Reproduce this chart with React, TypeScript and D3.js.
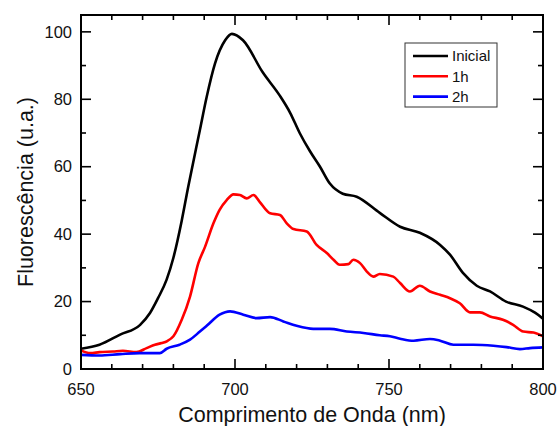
import React from 'react';
import * as d3 from 'd3';

// spectra (nm, fluorescence u.a.)
const inicialNm = [650, 656, 662.7, 669.2, 672.4, 675, 677.8, 680, 682.7, 684.8, 688.6, 690.8, 693.5, 696.8, 699, 702.6, 709, 714.6, 717.9, 721, 724.4, 727.6, 730.8, 735, 739.5, 747, 753.6, 760, 766.6, 769.8, 774, 778.5, 782.8, 788, 793.5, 797.4, 800];
const inicialVal = [6.0, 7.2, 10.2, 13.1, 16.6, 21, 26.5, 33, 44, 54, 70.9, 80.7, 90.6, 97.5, 99.4, 97.5, 88, 81, 76, 70, 64.5, 60, 55, 52, 51.1, 46.3, 42.2, 40.4, 36.8, 33.9, 28.5, 24.7, 23, 20, 18.5, 16.7, 14.9];

const h1Nm = [650, 653, 656, 660.4, 663.6, 668, 671.3, 674, 676.2, 678, 680, 682.7, 685.4, 688.1, 690.3, 693, 695, 697.3, 699.5, 701.6, 703.8, 706, 708, 711.4, 714.6, 716.8, 719, 723.3, 726.5, 729.8, 732, 734, 736.8, 738.4, 740.6, 742.8, 744.9, 747, 751.4, 753.6, 756.8, 760, 763.3, 766.6, 769.8, 773, 776.3, 779.5, 782.8, 787, 790.3, 793.6, 796.9, 800];
const h1Val = [5.5, 4.7, 5.0, 5.2, 5.4, 5.0, 6.2, 7.2, 7.7, 8.3, 9.7, 14.6, 21.5, 31.4, 36.3, 43.2, 47.2, 50.1, 51.8, 51.6, 50.6, 51.6, 49.6, 46.2, 45.7, 43.2, 41.5, 40.8, 36.8, 34.4, 32.4, 30.9, 31.1, 32.4, 31.4, 28.9, 27.4, 28.2, 27.4, 25.5, 23.0, 24.7, 23.0, 22.0, 21.0, 19.5, 16.8, 16.8, 15.6, 14.6, 13.1, 11.1, 10.8, 9.7];

const h2Nm = [650, 656, 662.7, 669, 675.6, 677.8, 682, 685.4, 688.6, 690.8, 695, 698.4, 702.7, 707, 711.4, 715.7, 720, 725.4, 730.8, 736.3, 741.7, 747, 750.3, 753.6, 758, 763.3, 766.6, 770.9, 777.4, 783.9, 788.2, 792.5, 795.8, 800];
const h2Val = [4.2, 4.0, 4.4, 4.7, 4.7, 6.0, 7.2, 8.7, 11.1, 12.8, 16.1, 17.1, 16.1, 15.1, 15.4, 14.1, 12.8, 11.9, 11.9, 11.1, 10.7, 10.0, 9.7, 9.0, 8.4, 8.9, 8.4, 7.2, 7.2, 6.9, 6.5, 5.9, 6.2, 6.4];

const seriesNames = ['Inicial', '1h', '2h'];
const seriesColors = ['#000000', '#ff0000', '#0000ff'];

const xMajor = [650, 700, 750, 800];
const yMajor = [0, 20, 40, 60, 80, 100];

const W = 558;
const H = 426;
const margin = { top: 15, right: 15, bottom: 57, left: 81 };
const font = '"Liberation Sans", Arial, sans-serif';

export default function App() {
  const x = d3.scaleLinear().domain([650, 800]).range([margin.left, W - margin.right]);
  const y = d3.scaleLinear().domain([0, 105]).range([H - margin.bottom, margin.top]);

  const line = d3.line<[number, number]>()
    .x(d => x(d[0]))
    .y(d => y(d[1]))
    .curve(d3.curveMonotoneX);

  const series = [
    d3.zip(inicialNm, inicialVal) as [number, number][],
    d3.zip(h1Nm, h1Val) as [number, number][],
    d3.zip(h2Nm, h2Val) as [number, number][],
  ];

  const x0 = margin.left, x1 = W - margin.right;
  const y0 = H - margin.bottom, y1 = margin.top;

  const xMinor = d3.range(650, 801, 10).filter(v => !xMajor.includes(v));
  const yMinor = d3.range(10, 105, 20);

  return (
    <div style={{ position: 'absolute', left: 0, top: 0 }}>
      <svg width={W} height={H} style={{ display: 'block', background: '#fff' }}>
        <defs>
          <clipPath id="plot">
            <rect x={x0} y={y1} width={x1 - x0} height={y0 - y1} />
          </clipPath>
        </defs>

        {/* curves */}
        <g clipPath="url(#plot)" fill="none" strokeWidth={2.6} strokeLinejoin="round">
          {series.map((s, i) => (
            <path key={i} d={line(s) ?? ''} stroke={seriesColors[i]} />
          ))}
        </g>

        {/* ticks, all pointing inward */}
        <g stroke="#000" strokeWidth={1.6}>
          {xMajor.map(v => (
            <g key={'xM' + v}>
              <line x1={x(v)} x2={x(v)} y1={y0} y2={y0 - 10} />
              <line x1={x(v)} x2={x(v)} y1={y1} y2={y1 + 10} />
            </g>
          ))}
          {xMinor.map(v => (
            <g key={'xm' + v}>
              <line x1={x(v)} x2={x(v)} y1={y0} y2={y0 - 5} />
              <line x1={x(v)} x2={x(v)} y1={y1} y2={y1 + 5} />
            </g>
          ))}
          {yMajor.map(v => (
            <g key={'yM' + v}>
              <line x1={x0} x2={x0 + 10} y1={y(v)} y2={y(v)} />
              <line x1={x1} x2={x1 - 10} y1={y(v)} y2={y(v)} />
            </g>
          ))}
          {yMinor.map(v => (
            <g key={'ym' + v}>
              <line x1={x0} x2={x0 + 5} y1={y(v)} y2={y(v)} />
              <line x1={x1} x2={x1 - 5} y1={y(v)} y2={y(v)} />
            </g>
          ))}
        </g>

        {/* frame */}
        <rect x={x0} y={y1} width={x1 - x0} height={y0 - y1} fill="none" stroke="#000" strokeWidth={2} />

        {/* tick labels */}
        <g fontFamily={font} fontSize={16.5} fill="#111">
          {xMajor.map(v => (
            <text key={'xl' + v} x={x(v)} y={y0 + 26} textAnchor="middle">{v}</text>
          ))}
          {yMajor.map(v => (
            <text key={'yl' + v} x={x0 - 9} y={y(v)} dy="0.35em" textAnchor="end">{v}</text>
          ))}
        </g>

        {/* axis titles */}
        <text x={(x0 + x1) / 2} y={422} textAnchor="middle" fontFamily={font} fontSize={21.5} fill="#111">
          Comprimento de Onda (nm)
        </text>
        <text transform={`translate(33,${(y0 + y1) / 2}) rotate(-90)`} textAnchor="middle"
          fontFamily={font} fontSize={21.5} fill="#111">
          Fluorescência (u.a.)
        </text>

        {/* legend */}
        <g fontFamily={font} fontSize={15}>
          <rect x={405} y={43} width={92} height={64} fill="#fff" stroke="#333" strokeWidth={1} />
          {seriesNames.map((n, i) => (
            <g key={n} transform={`translate(0,${56 + i * 20.3})`}>
              <line x1={413} x2={448} y1={0} y2={0} stroke={seriesColors[i]} strokeWidth={2.6} />
              <text x={452} y={0} dy="0.36em" fill="#111">{n}</text>
            </g>
          ))}
        </g>
      </svg>
    </div>
  );
}
